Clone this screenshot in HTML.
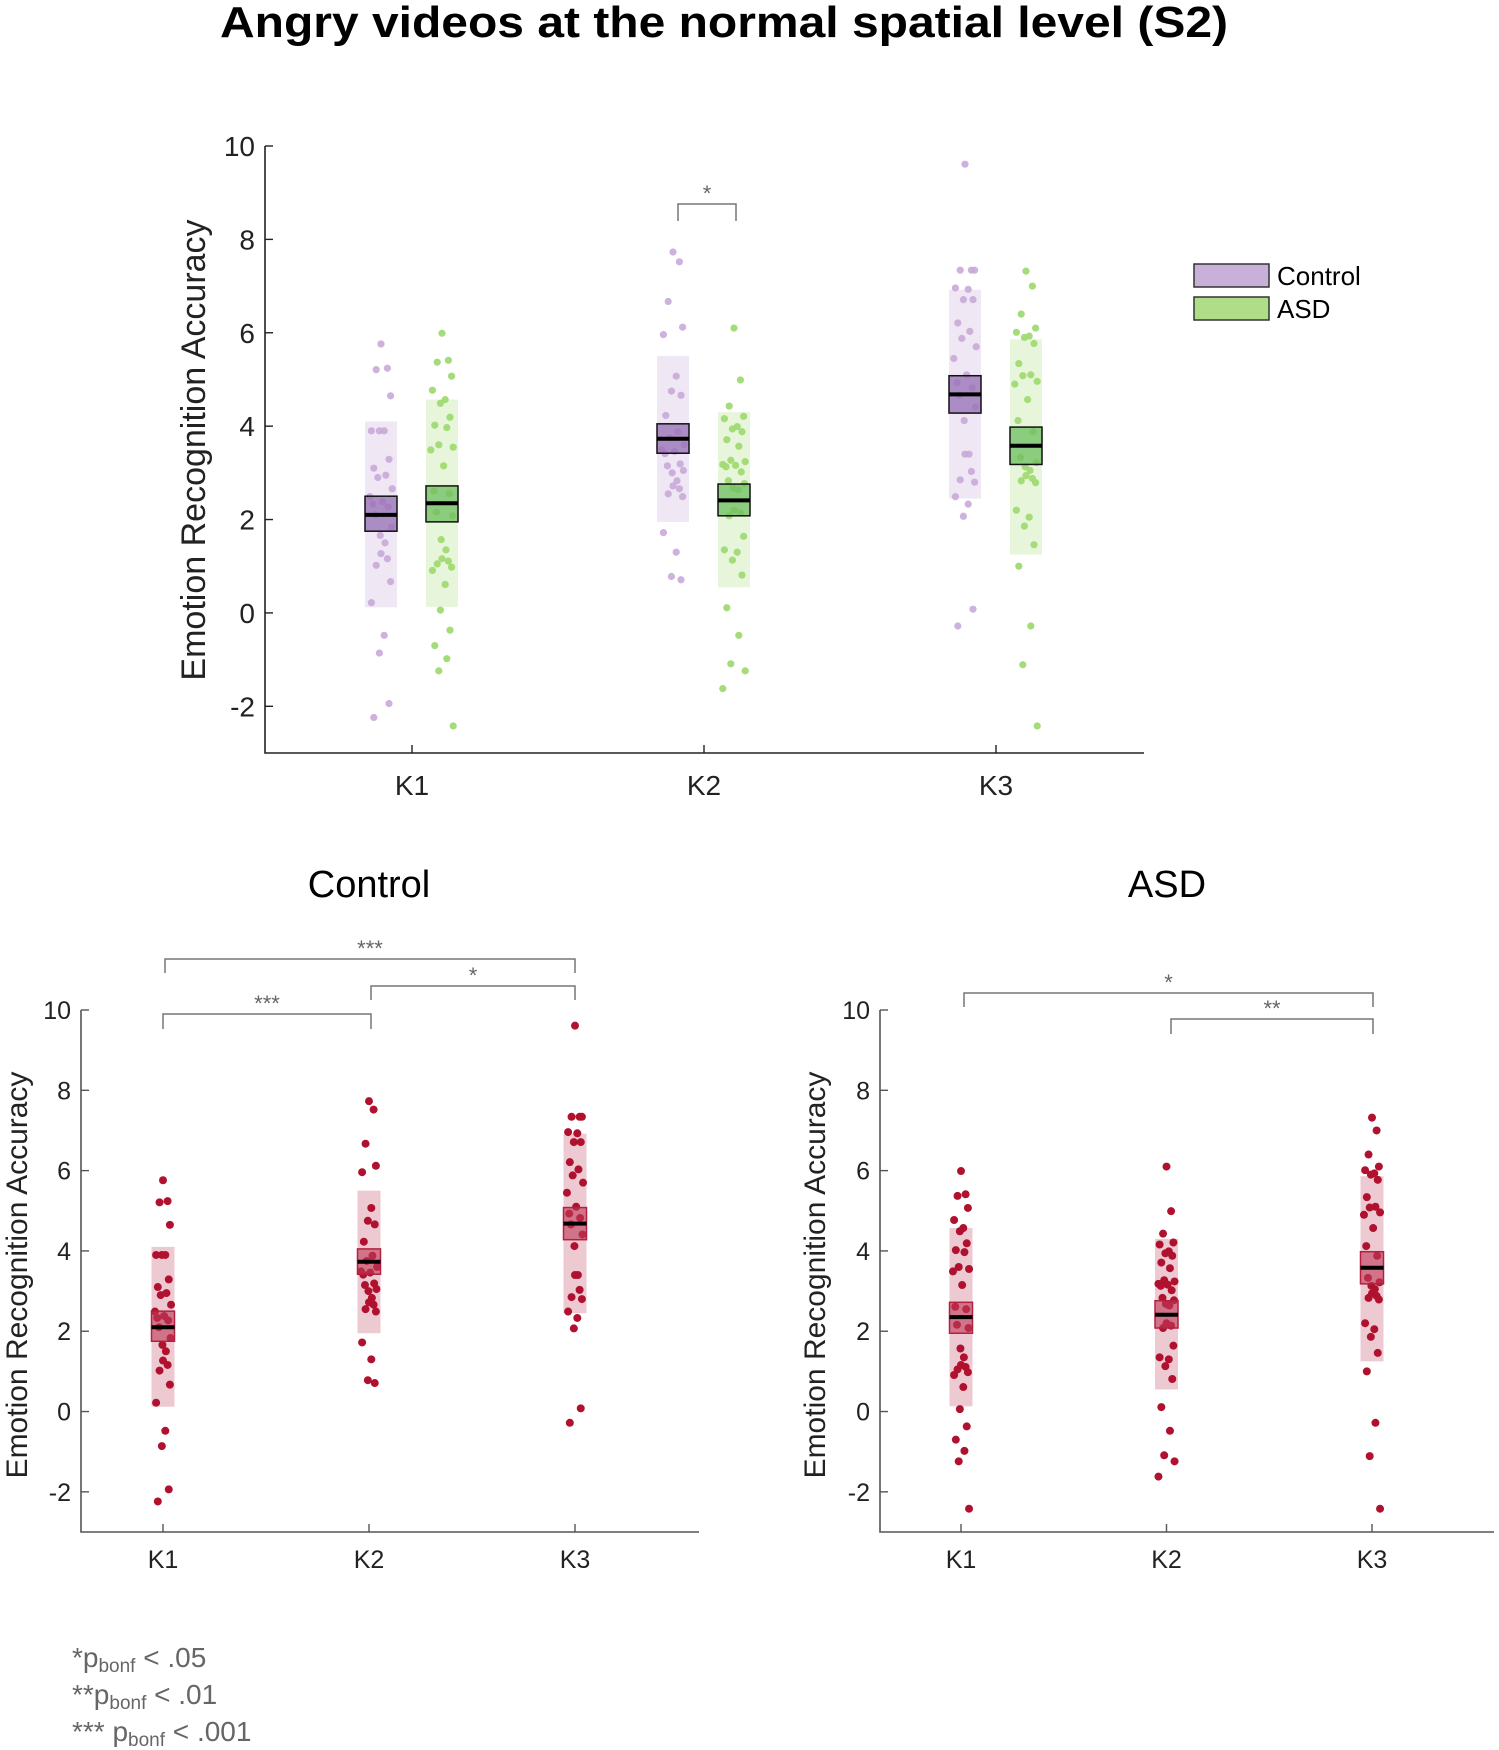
<!DOCTYPE html>
<html><head><meta charset="utf-8"><style>
html,body{margin:0;padding:0;background:#fff;}
svg{display:block;font-family:"Liberation Sans",Arial,sans-serif;}
</style></head><body>
<svg id="fig" width="1499" height="1750" viewBox="0 0 1499 1750" xmlns="http://www.w3.org/2000/svg">
<text x="724" y="37" text-anchor="middle" font-size="44" font-weight="bold" textLength="1008" lengthAdjust="spacingAndGlyphs">Angry videos at the normal spatial level (S2)</text>
<text x="369" y="897" text-anchor="middle" font-size="38">Control</text>
<text x="1167" y="897" text-anchor="middle" font-size="38">ASD</text>
<g>
<rect x="1194" y="264" width="75" height="23" fill="#c9b0d9" stroke="#333" stroke-width="1.5"/>
<text x="1277" y="285" font-size="26">Control</text>
<rect x="1194" y="297" width="75" height="23" fill="#b0de88" stroke="#333" stroke-width="1.5"/>
<text x="1277" y="318" font-size="26">ASD</text>
</g>
<g fill="#666" font-size="28">
<text x="72" y="1667">*p<tspan font-size="19" dy="5">bonf</tspan><tspan dy="-5"> &lt; .05</tspan></text>
<text x="72" y="1704">**p<tspan font-size="19" dy="5">bonf</tspan><tspan dy="-5">  &lt; .01</tspan></text>
<text x="72" y="1741">***  p<tspan font-size="19" dy="5">bonf</tspan><tspan dy="-5"> &lt; .001</tspan></text>
</g>
</svg>
<script>
const categories = ["K1","K2","K3"];
const yTicks = [-2,0,2,4,6,8,10];
const ctrlK1 = [5.76,5.24,5.21,4.65,3.9,3.9,3.9,3.29,3.1,2.95,2.9,2.66,2.49,2.38,2.33,2.27,2.1,1.83,1.66,1.5,1.27,1.16,1.02,0.67,0.22,-0.48,-0.86,-1.94,-2.24];
const ctrlK2 = [7.73,7.52,6.67,6.12,5.96,5.07,4.75,4.66,4.23,3.88,3.75,3.6,3.49,3.46,3.41,3.19,3.15,3.05,3.0,2.83,2.72,2.66,2.55,2.49,1.72,1.3,0.78,0.71];
const ctrlK3 = [9.61,7.34,7.34,7.34,6.96,6.93,6.71,6.71,6.21,6.03,5.88,5.7,5.45,5.1,4.93,4.82,4.66,4.41,4.12,3.4,3.4,3.03,2.85,2.8,2.49,2.33,2.07,0.08,-0.28];
const asdK1 = [5.99,5.41,5.37,5.07,4.77,4.57,4.49,4.19,4.02,3.97,3.6,3.55,3.49,3.15,2.61,2.55,2.16,2.08,1.57,1.35,1.16,1.11,1.05,0.98,0.91,0.61,0.06,-0.37,-0.7,-0.98,-1.24,-2.42];
const asdK2 = [6.1,4.99,4.43,4.21,4.16,3.99,3.94,3.88,3.71,3.57,3.27,3.24,3.18,3.16,3.13,3.02,2.83,2.77,2.68,2.64,2.2,2.14,2.08,1.64,1.35,1.3,1.13,0.81,0.11,-0.48,-1.09,-1.24,-1.62];
const asdK3 = [7.32,7.0,6.4,6.1,6.01,5.93,5.9,5.77,5.34,5.1,5.08,4.96,4.9,4.57,4.12,3.88,3.33,3.22,3.13,3.05,2.94,2.88,2.83,2.79,2.2,2.05,1.86,1.46,1.0,-0.28,-1.11,-2.42];
const ctrlMeans = [2.1,3.73,4.68];
const ctrlSE = [[1.75,2.5],[3.42,4.05],[4.28,5.08]];
const ctrlSD = [[0.12,4.1],[1.95,5.5],[2.45,6.92]];
const asdMeans = [2.35,2.41,3.58];
const asdSE = [[1.95,2.72],[2.08,2.76],[3.18,3.98]];
const asdSD = [[0.13,4.57],[0.55,4.3],[1.25,5.86]];
const jitterPattern = [0,0.4,-0.3,0.6,-0.6,0.2,-0.1,0.5,-0.45,0.3,-0.2,0.7,-0.7,0.1,-0.5,0.45,-0.35,0.65,-0.05,0.25];

const svgEl = document.getElementById('fig');
const NS = 'http://www.w3.org/2000/svg';
function mk(tag, attrs, parent){const e=document.createElementNS(NS,tag);for(const k in attrs)e.setAttribute(k,attrs[k]);(parent||svgEl).appendChild(e);return e;}

function makeAxes(p){
  p.sx = v => p.k1 + (v-1)*p.step;
  p.sy = v => p.y10 + (10-v)/13*(p.yBot-p.y10);
  const g = mk('g',{});
  
  
  p.g = g;
  const ax = mk('path',{d:`M${p.x0} ${p.y10} V${p.yBot} H${p.x1}`,fill:'none',stroke:p.axc,'stroke-width':1.6},g);
  
  
  yTicks.forEach(t=>{
    const y=p.sy(t);
    const tk=mk('line',{x1:p.x0,x2:p.x0+8,y1:y,y2:y,stroke:p.axc,'stroke-width':1.4},g);
    
    
    const tl=mk('text',{x:p.x0-10,y:y+p.fs*0.36,'text-anchor':'end','font-size':p.fs,fill:'#222'},g);
    
    
    tl.textContent=t;
  });
  categories.forEach((c,i)=>{
    const x=p.sx(i+1);
    const tk=mk('line',{x1:x,x2:x,y1:p.yBot,y2:p.yBot-8,stroke:p.axc,'stroke-width':1.4},g);
    
    
    const tl=mk('text',{x:x,y:p.xly,'text-anchor':'middle','font-size':p.fs,fill:'#222'},g);
    
    
    tl.textContent=c;
  });
  const yl=mk('text',{x:p.ylx,y:p.ylc,'text-anchor':'middle','font-size':p.lfs,fill:'#222',transform:`rotate(-90 ${p.ylx} ${p.ylc})`},g);
  
  
  yl.textContent='Emotion Recognition Accuracy';
  return p;
}

function drawGroup(p, ci, off, pts, mean, se, sd, st, nm){
  const cx = p.sx(ci+1) + off, hw = p.bw/2;
  const b=mk('rect',{x:cx-hw,y:p.sy(sd[1]),width:2*hw,height:p.sy(sd[0])-p.sy(sd[1]),fill:st.band},p.g);
  
  
  pts.forEach((v,j)=>{
    const jx = jitterPattern[j%jitterPattern.length]*hw;
    const d=mk('circle',{cx:cx+jx,cy:p.sy(v),r:p.r,fill:st.dot},p.g);
    
    
  });
  const s=mk('rect',{x:cx-hw,y:p.sy(se[1]),width:2*hw,height:p.sy(se[0])-p.sy(se[1]),fill:st.se,stroke:st.seStroke,'stroke-width':1.5},p.g);
  
  
  const m=mk('line',{x1:cx-hw,x2:cx+hw,y1:p.sy(mean),y2:p.sy(mean),stroke:'#000','stroke-width':4},p.g);
  
  
}

function bracket(p, x1, x2, yb, drop, label, nm){
  const bk=mk('path',{d:`M${x1} ${yb+drop} V${yb} H${x2} V${yb+drop}`,fill:'none',stroke:'#777','stroke-width':1.5},p.g);
  
  
  const t=mk('text',{x:(x1+x2)/2,y:yb-3,'text-anchor':'middle','font-size':22,fill:'#666'},p.g);
  
  
  t.textContent=label;
}

const ctrlStyle={band:'rgba(201,176,217,0.3)',dot:'rgba(201,168,216,0.9)',se:'rgba(150,110,180,0.75)',seStroke:'#111'};
const asdStyle={band:'rgba(176,222,136,0.3)',dot:'rgba(160,218,115,0.95)',se:'rgba(110,190,95,0.75)',seStroke:'#111'};
const redStyle={band:'rgba(210,120,140,0.4)',dot:'#b0112f',se:'rgba(190,60,90,0.6)',seStroke:'#b52040'};

const mainChart = makeAxes({name:'main-chart',x0:265,x1:1144,k1:412,step:292,y10:146,yBot:753,axc:'#222',fs:28,lfs:34,ylx:205,ylc:450,xly:795,bw:32,r:3.6});
const ctrlSets=[ctrlK1,ctrlK2,ctrlK3], asdSets=[asdK1,asdK2,asdK3];
for(let i=0;i<3;i++){
  drawGroup(mainChart,i,-31,ctrlSets[i],ctrlMeans[i],ctrlSE[i],ctrlSD[i],ctrlStyle,'control-'+categories[i].toLowerCase());
  drawGroup(mainChart,i,30,asdSets[i],asdMeans[i],asdSE[i],asdSD[i],asdStyle,'asd-'+categories[i].toLowerCase());
}
bracket(mainChart,678,736,204,17,'*','sig-bracket-k2');

const ctrlChart = makeAxes({name:'control-chart',x0:81,x1:699,k1:163,step:206,y10:1010,yBot:1532,axc:'#555',fs:25,lfs:30,ylx:27,ylc:1275,xly:1568,bw:23,r:4});
for(let i=0;i<3;i++) drawGroup(ctrlChart,i,0,ctrlSets[i],ctrlMeans[i],ctrlSE[i],ctrlSD[i],redStyle,'control-'+categories[i].toLowerCase());
bracket(ctrlChart,165,575,959,14,'***','sig-bracket-k1-k3');
bracket(ctrlChart,371,575,986,14,'*','sig-bracket-k2-k3');
bracket(ctrlChart,163,371,1014,15,'***','sig-bracket-k1-k2');

const asdChart = makeAxes({name:'asd-chart',x0:880,x1:1494,k1:961,step:205.5,y10:1010,yBot:1532,axc:'#555',fs:25,lfs:30,ylx:825,ylc:1275,xly:1568,bw:23,r:4});
for(let i=0;i<3;i++) drawGroup(asdChart,i,0,asdSets[i],asdMeans[i],asdSE[i],asdSD[i],redStyle,'asd-'+categories[i].toLowerCase());
bracket(asdChart,964,1373,993,14,'*','sig-bracket-k1-k3');
bracket(asdChart,1171,1373,1019,15,'**','sig-bracket-k2-k3');
</script>
</body></html>
